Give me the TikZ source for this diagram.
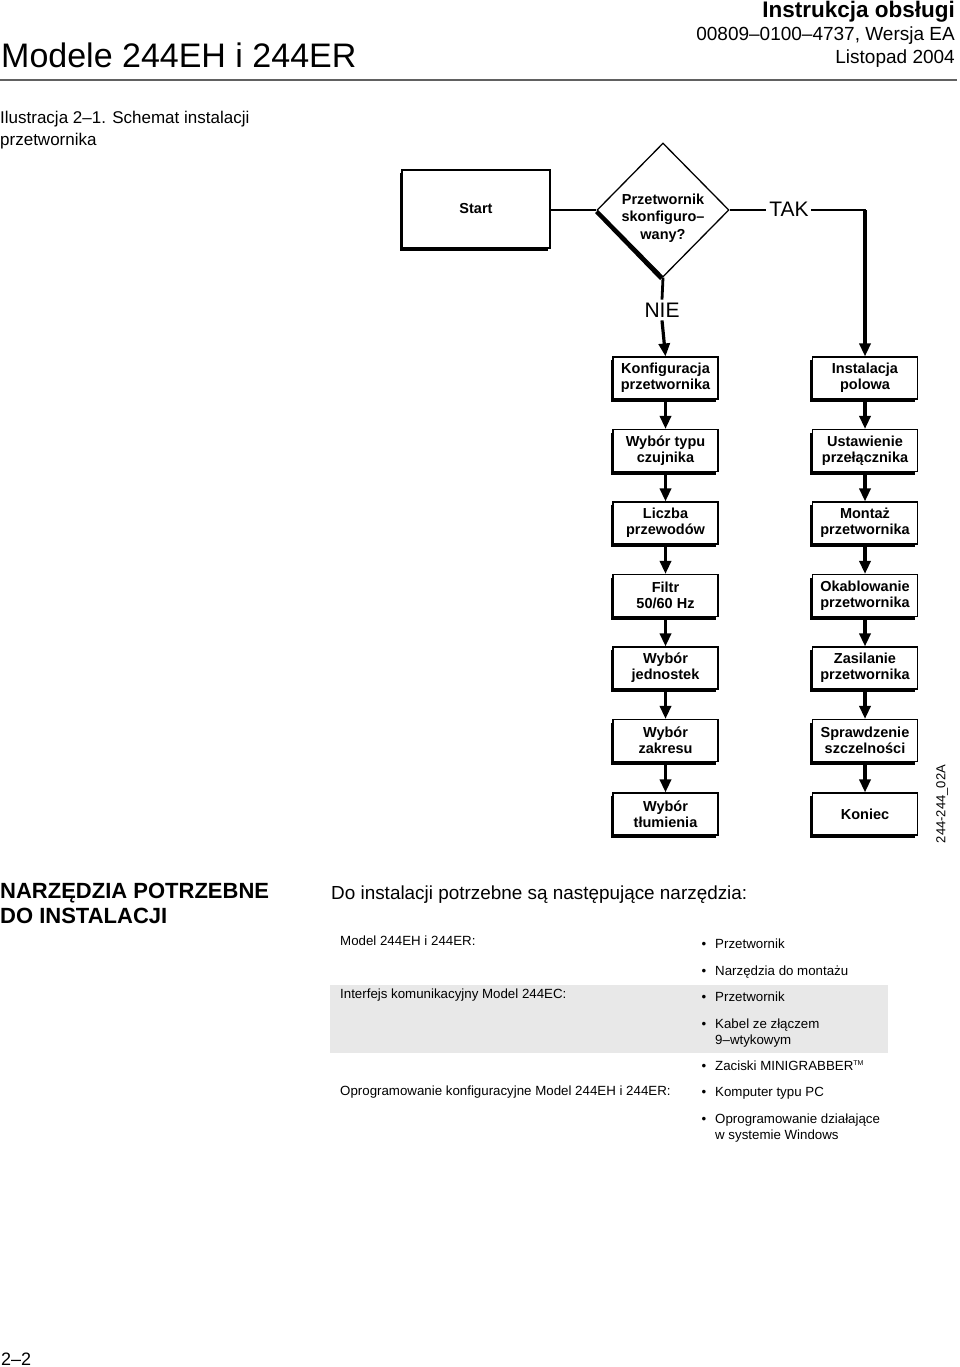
\documentclass[tikz,border=0pt]{standalone}
\usepackage{fontspec}
\setmainfont{Liberation Sans}
\usetikzlibrary{arrows.meta,shapes.geometric}
\definecolor{band}{gray}{0.91}
\definecolor{rule}{gray}{0.38}
\begin{document}
\begin{tikzpicture}[x=1pt,y=-1pt,
  stepbox/.style={draw, line width=1.1pt, fill=white,
    preaction={fill=black, transform canvas={xshift=-2.5pt,yshift=-3pt}},
    minimum width=105pt, minimum height=42pt, inner sep=0pt, align=center,
    font=\fontsize{14.5}{16}\selectfont\bfseries},
  arr/.style={line width=3.2pt, -{Triangle[width=11pt,length=13pt]}},
  link/.style={line width=2.6pt},
  txt/.style={inner sep=0pt, anchor=base west},
  small/.style={txt, font=\fontsize{13.3}{16}\selectfont},
  bul/.style={inner sep=0pt, anchor=base, font=\fontsize{13.3}{16}\selectfont}
]
\useasboundingbox (0,0) rectangle (960,1367);

% ---------- header ----------
\node[inner sep=0pt, anchor=base east, font=\fontsize{22.5}{26}\selectfont\bfseries] (h1) at (955,18) {Instrukcja obsługi};
\node[inner sep=0pt, anchor=base east, font=\fontsize{19}{22}\selectfont] (h2) at (955,41) {00809–0100–4737, Wersja EA};
\node[inner sep=0pt, anchor=base east, font=\fontsize{19}{22}\selectfont] (h3) at (955,64) {Listopad 2004};
\node[txt, font=\fontsize{34}{40}\selectfont] (title) at (1,68) {Modele 244EH i 244ER};
\coordinate (rl) at (0,80);
\coordinate (rr) at (957,80);
\draw[rule, line width=2.5pt] (rl) -- (rr);
\node[txt, font=\fontsize{17}{21}\selectfont] (cap1) at (0,124) {Ilustracja 2–1. Schemat instalacji};
\node[txt, font=\fontsize{17}{21}\selectfont] (cap2) at (0,146) {przetwornika};

% ---------- flowchart ----------
\node[stepbox, minimum width=148pt, minimum height=78pt] (start) at (476,209) {Start};

\fill[black] (595,213) -- (660,280) -- (663,277) -- (598,210) -- cycle;
\node[draw, line width=1.3pt, fill=white, shape=diamond, minimum width=132pt, minimum height=134pt, inner sep=0pt] (dia) at (663,210) {};
\node[align=center, inner sep=0pt, font=\fontsize{14.5}{17.5}\selectfont\bfseries] (diat) at (663,218) {Przetwornik\\skonfiguro–\\wany?};

\node[inner sep=3pt, font=\fontsize{21}{24}\selectfont] (tak) at (789,209) {TAK};
\node[inner sep=3pt, font=\fontsize{21}{24}\selectfont] (nie) at (662,310) {NIE};
\coordinate (corner) at (865,210);

\draw[link] (start.east |- dia.west) -- (dia.west);
\draw[link] (dia.east) -- (tak.west |- dia.east);
\draw[link, line cap=rect] (tak.east |- corner) -- (corner);
\draw[line width=2.8pt] (dia.south) -- (nie.north);

% left column
\node[stepbox] (l1) at (665.5,378) {Konfiguracja\\przetwornika};
\node[stepbox] (l2) at (665.5,450.5) {Wybór typu\\czujnika};
\node[stepbox] (l3) at (665.5,523) {Liczba\\przewodów};
\node[stepbox] (l4) at (665.5,595.5) {Filtr\\50/60 Hz};
\node[stepbox] (l5) at (665.5,668) {Wybór\\jednostek};
\node[stepbox] (l6) at (665.5,740.5) {Wybór\\zakresu};
\node[stepbox] (l7) at (665.5,814) {Wybór\\tłumienia};

% right column
\node[stepbox] (r1) at (865,378) {Instalacja\\polowa};
\node[stepbox] (r2) at (865,450.5) {Ustawienie\\przełącznika};
\node[stepbox] (r3) at (865,523) {Montaż\\przetwornika};
\node[stepbox] (r4) at (865,595.5) {Okablowanie\\przetwornika};
\node[stepbox] (r5) at (865,668) {Zasilanie\\przetwornika};
\node[stepbox] (r6) at (865,740.5) {Sprawdzenie\\szczelności};
\node[stepbox] (r7) at (865,814) {Koniec};

\draw[arr] (nie.south) -- (l1.north);
\draw[arr] (corner) -- (r1.north);
\draw[arr] (l1.south) -- (l2.north);
\draw[arr] (l2.south) -- (l3.north);
\draw[arr] (l3.south) -- (l4.north);
\draw[arr] (l4.south) -- (l5.north);
\draw[arr] (l5.south) -- (l6.north);
\draw[arr] (l6.south) -- (l7.north);
\draw[arr] (r1.south) -- (r2.north);
\draw[arr] (r2.south) -- (r3.north);
\draw[arr] (r3.south) -- (r4.north);
\draw[arr] (r4.south) -- (r5.north);
\draw[arr] (r5.south) -- (r6.north);
\draw[arr] (r6.south) -- (r7.north);

\node[rotate=90, inner sep=0pt, font=\fontsize{13}{13}\selectfont] (code) at (942,804) {244-244\_02A};

% ---------- tools section ----------
\fill[band] (330,985) rectangle (888,1053);

\node[txt, font=\fontsize{22}{25}\selectfont\bfseries] (sec1) at (0,898) {NARZĘDZIA POTRZEBNE};
\node[txt, font=\fontsize{22}{25}\selectfont\bfseries] (sec2) at (0,923) {DO INSTALACJI};
\node[txt, font=\fontsize{18.9}{22}\selectfont] (intro) at (331,899) {Do instalacji potrzebne są następujące narzędzia:};

\node[small] (m1) at (340,945) {Model 244EH i 244ER:};
\node[small] (m2) at (340,998) {Interfejs komunikacyjny Model 244EC:};
\node[small] (m3) at (340,1095) {Oprogramowanie konfiguracyjne Model 244EH i 244ER:};

\foreach \yy in {948,975,1001,1028,1070,1096,1123}
  \node[bul] at (704,\yy) {•};
\node[small] (b1) at (715,948) {Przetwornik};
\node[small] (b2) at (715,975) {Narzędzia do montażu};
\node[small] (b3) at (715,1001) {Przetwornik};
\node[small] (b4) at (715,1028) {Kabel ze złączem};
\node[small] (b4b) at (715,1044) {9–wtykowym};
\node[small] (b5) at (715,1070) {Zaciski MINIGRABBER\raisebox{5pt}{\fontsize{7}{7}\selectfont TM}};
\node[small] (b6) at (715,1096) {Komputer typu PC};
\node[small] (b7) at (715,1123) {Oprogramowanie działające};
\node[small] (b7b) at (715,1139) {w systemie Windows};

\node[txt, font=\fontsize{18}{21}\selectfont] (pg) at (1,1365) {2–2};
\end{tikzpicture}
\end{document}
